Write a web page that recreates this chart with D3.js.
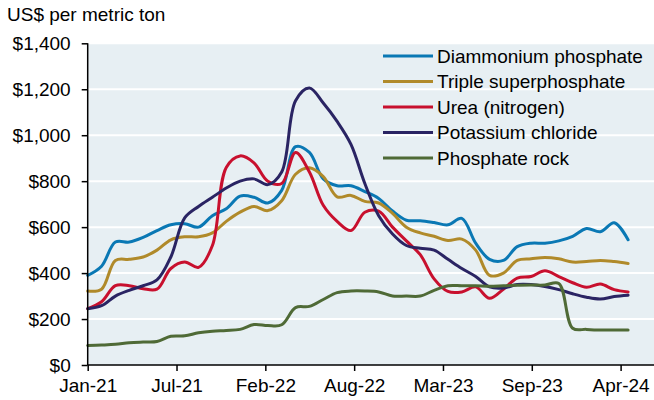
<!DOCTYPE html>
<html>
<head>
<meta charset="utf-8">
<script src="https://cdn.jsdelivr.net/npm/d3@7"></script>
<style>
  body { margin: 0; background: #fff; }
  text { font-family: "Liberation Sans", Arial, sans-serif; fill: #000; }
  .grid line { stroke: #fff; stroke-width: 2; }
  .axis path, .axis line { stroke: #000; stroke-width: 1.5; }
  .series { fill: none; stroke-width: 3; stroke-linejoin: round; stroke-linecap: round; }
</style>
</head>
<body>
<svg width="654" height="400"></svg>
<script>
// monthly, Jan-21 .. Apr-24 (40 points)
const months = d3.range(40)

const dap = [390, 430, 535, 535, 555, 585, 610, 615, 600, 650, 680, 735, 730, 705, 760, 950, 925, 810, 780, 780,
  755, 725, 670, 630, 628, 620, 610, 638, 530, 460, 455, 515, 530, 530, 540, 560, 594, 580, 619, 545]
const tsp = [322, 330, 455, 460, 470, 500, 545, 558, 558, 575, 625, 665, 690, 672, 715, 830, 858, 820, 732, 738,
  712, 705, 660, 600, 575, 560, 542, 548, 500, 390, 400, 455, 462, 468, 462, 448, 450, 455, 450, 442]
const urea = [245, 275, 345, 345, 332, 330, 420, 448, 425, 520, 860, 910, 880, 800, 790, 925, 840, 695, 625, 585,
  665, 670, 600, 540, 480, 375, 320, 318, 340, 290, 330, 378, 385, 410, 385, 358, 338, 352, 328, 318]
const potash = [245, 258, 300, 325, 345, 370, 470, 640, 690, 730, 770, 800, 810, 785, 840, 1150, 1205, 1140, 1060, 960,
  790, 650, 570, 520, 508, 500, 460, 420, 385, 340, 335, 350, 350, 342, 328, 310, 295, 287, 298, 304]
const rock = [85, 87, 90, 97, 100, 102, 125, 127, 140, 147, 150, 155, 176, 172, 175, 250, 255, 285, 315, 322,
  322, 318, 300, 300, 300, 325, 345, 345, 345, 343, 345, 347, 348, 348, 355, 160, 155, 152, 152, 152]

const seriesNames = ['Diammonium phosphate', 'Triple superphosphate', 'Urea (nitrogen)', 'Potassium chloride', 'Phosphate rock']
const seriesValues = [dap, tsp, urea, potash, rock]
const colors = ['#0a78b4', '#b08a2a', '#c8102e', '#2a2463', '#4f6a36']

const tickLabels = ['Jan-21', 'Jul-21', 'Feb-22', 'Aug-22', 'Mar-23', 'Sep-23', 'Apr-24']
const tickStep = 6.41 // months between labels
const yTicks = [0, 200, 400, 600, 800, 1000, 1200, 1400]

const svg = d3.select('svg')
const plotLeft = 87.7, plotRight = 654, plotTop = 43.3, plotBottom = 365

const x = d3.scaleLinear().domain([0, 40.87]).range([plotLeft, plotRight])
const y = d3.scaleLinear().domain([0, 1400]).range([plotBottom, plotTop])

svg.append('rect')
  .attr('x', plotLeft).attr('y', plotTop)
  .attr('width', plotRight - plotLeft).attr('height', plotBottom - plotTop)
  .attr('fill', '#e7eff3')

svg.append('g')
  .attr('class', 'grid')
  .selectAll('line')
  .data(yTicks.slice(1))
  .enter()
  .append('line')
  .attr('x1', plotLeft).attr('x2', plotRight)
  .attr('y1', d => y(d)).attr('y2', d => y(d))

const line = d3.line()
  .x((d, i) => x(months[i]))
  .y(d => y(d))
  .curve(d3.curveCatmullRom.alpha(0.5))

svg.selectAll('.series')
  .data(seriesValues)
  .enter()
  .append('path')
  .attr('class', 'series')
  .attr('stroke', (d, i) => colors[i])
  .attr('d', line)

const yAxis = svg.append('g')
  .attr('class', 'axis')
  .attr('transform', `translate(${plotLeft},0)`)
  .call(d3.axisLeft(y).tickValues(yTicks).tickSize(6).tickPadding(11)
    .tickFormat(d => '$' + d3.format(',')(d)))
yAxis.selectAll('text').style('font-size', '19px')

const xAxis = svg.append('g')
  .attr('class', 'axis')
  .attr('transform', `translate(0,${plotBottom})`)
  .call(d3.axisBottom(x).tickValues(tickLabels.map((d, i) => i * tickStep)).tickSize(6).tickPadding(8)
    .tickFormat((d, i) => tickLabels[i]))
xAxis.selectAll('text').style('font-size', '19px')
xAxis.select('.domain').attr('d', `M${plotLeft},0H${plotRight}`)
yAxis.select('.domain').attr('d', `M0,${plotBottom}V${plotTop}`)

svg.append('text')
  .attr('x', 7).attr('y', 21)
  .style('font-size', '19px')
  .text('US$ per metric ton')

const legend = svg.append('g')
  .selectAll('g')
  .data(seriesNames)
  .enter()
  .append('g')
  .attr('transform', (d, i) => `translate(383,${56 + i * 25.5})`)

legend.append('line')
  .attr('x1', 0).attr('x2', 50)
  .attr('stroke', (d, i) => colors[i])
  .attr('stroke-width', 3)
legend.append('text')
  .attr('x', 54).attr('dy', '0.35em')
  .style('font-size', '19px')
  .text(d => d)
</script>
</body>
</html>
